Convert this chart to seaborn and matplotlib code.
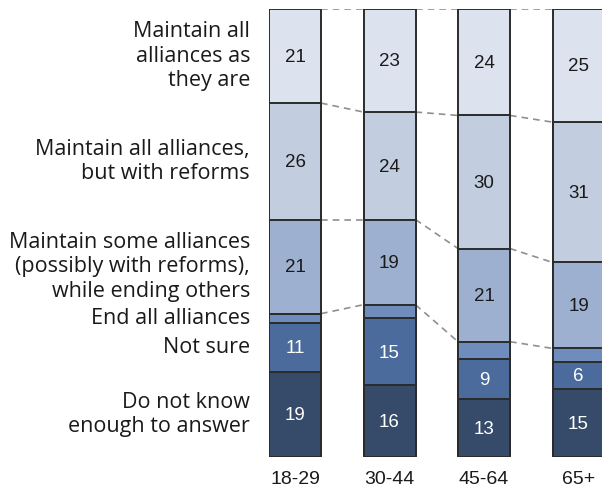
import matplotlib
matplotlib.use("Agg")
import matplotlib.pyplot as plt
import seaborn as sns
import numpy as np
import pandas as pd

ages = ["18-29", "30-44", "45-64", "65+"]
categories = [
    "Maintain all\nalliances as\nthey are",
    "Maintain all alliances,\nbut with reforms",
    "Maintain some alliances\n(possibly with reforms),\nwhile ending others",
    "End all alliances",
    "Not sure",
    "Do not know\nenough to answer",
]
maintain_as_is = [21, 23, 24, 25]
maintain_reforms = [26, 24, 30, 31]
maintain_some = [21, 19, 21, 19]
end_all = [2, 3, 4, 3]
not_sure = [11, 15, 9, 6]
dont_know = [19, 16, 13, 15]

colors = ["#dde3ee", "#c3cde0", "#9eb0cf", "#6e8dbd", "#4b6b9c", "#364a6a"]
text_colors = ["#1a1a1a", "#1a1a1a", "#1a1a1a", None, "white", "white"]

series = [maintain_as_is, maintain_reforms, maintain_some, end_all, not_sure, dont_know]
vals = np.array(series, dtype=float)
totals = vals.sum(axis=0)
shares = vals / totals * 100  # normalize each bar to 100%

bottoms = np.zeros_like(shares)
acc = np.zeros(len(ages))
for k in range(len(series) - 1, -1, -1):
    bottoms[k] = acc
    acc = acc + shares[k]
tops = bottoms + shares

W, H = 602, 490
fig = plt.figure(figsize=(W / 100, H / 100), dpi=100)
sns.set_style("white")
spacing = 94.5
bw = 52 / spacing
x0_px = 269
ax = fig.add_axes([x0_px / W, 33 / H, (W - x0_px) / W, (457 - 9) / H])

edge = "#2b2b2b"
for k in range(len(series)):
    df = pd.DataFrame({"age": ages, "top": tops[k]})
    sns.barplot(data=df, x="age", y="top", color=colors[k], saturation=1,
                edgecolor=edge, linewidth=1.4, width=bw, ax=ax, zorder=2)

left = -bw / 2
ax.set_xlim(left, left + (W - x0_px) / spacing)
ax.set_ylim(0, 100)

for k in range(len(series)):
    if text_colors[k] is None:
        continue
    for i in range(len(ages)):
        ax.text(i, bottoms[k][i] + shares[k][i] / 2 - 0.3, f"{int(vals[k][i])}",
                ha="center", va="center", fontsize=13.5, color=text_colors[k],
                family=["Liberation Sans", "DejaVu Sans"], zorder=5)

levels = [tops[0]] + [bottoms[k] for k in range(3)]
for lv in levels:
    for i in range(len(ages) - 1):
        ax.plot([i + bw / 2, i + 1 - bw / 2], [lv[i], lv[i + 1]],
                ls=(0, (4, 3)), color="#8f8f8f", lw=1.2, zorder=1)

for k, lab in enumerate(categories):
    yc = bottoms[k][0] + shares[k][0] / 2
    ax.text(-19 / (W - x0_px), yc, lab, transform=ax.get_yaxis_transform(),
            ha="right", va="center", fontsize=15.5, linespacing=1.22,
            family=["Open Sans", "DejaVu Sans"], color="#1a1a1a")

ax.set_xlabel("")
ax.set_ylabel("")
ax.set_yticks([])
ax.tick_params(axis="x", length=0, pad=10, labelsize=14)
for t in ax.get_xticklabels():
    t.set_family(["Liberation Sans", "DejaVu Sans"])
    t.set_color("#1a1a1a")
for s in ax.spines.values():
    s.set_visible(False)

fig.savefig("out.png", dpi=100)
